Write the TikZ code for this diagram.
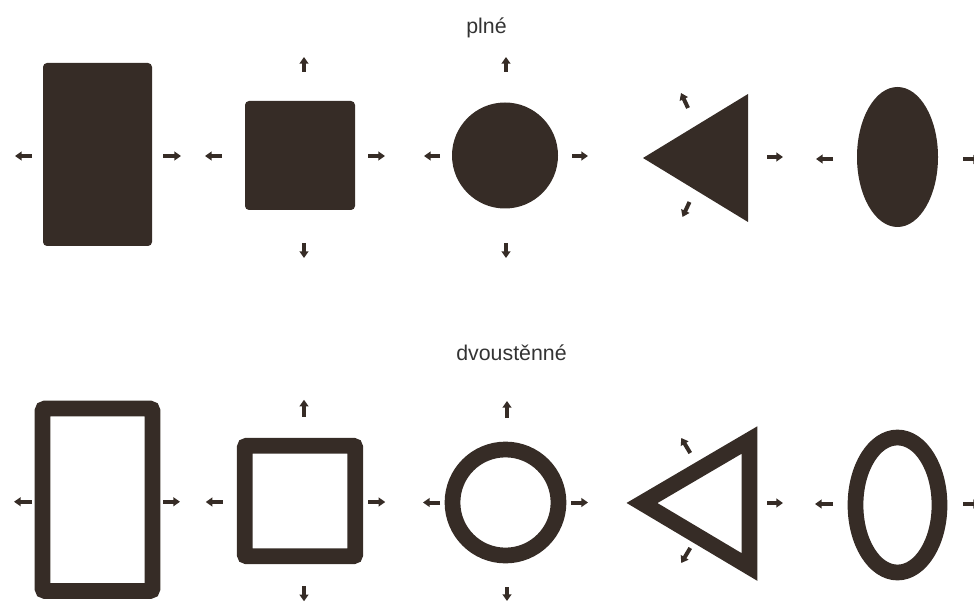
\documentclass[tikz,border=0pt]{standalone}
\usepackage{fontspec}
\setmainfont{Liberation Sans}
\usetikzlibrary{positioning,arrows.meta,shapes.geometric,calc}
\definecolor{ink}{RGB}{54,44,38}

\begin{document}
\begin{tikzpicture}[x=0.75pt,y=-0.75pt,>={Triangle[length=5pt,width=6.6pt]},
  hint/.style={->,line width=3pt,draw=ink},
  body/.style={fill=ink,inner sep=0pt,outer sep=0pt},
  shell/.style={draw=ink,line width=11.8pt,inner sep=0pt,outer sep=0pt},
  caption/.style={font=\fontsize{16}{19}\selectfont,text=black!80,anchor=base}]
\clip (0,0) rectangle (974,602);

% plne
\node[caption] (full) at (486.5,34) {plné};
\node[body,rectangle,rounded corners=3pt,minimum width=81.75pt,minimum height=137.25pt] (rA) at (97.5,154.5) {};
\node[body,rectangle,rounded corners=3pt,minimum width=82.5pt,minimum height=81.75pt] (sB) at (300,155.5) {};
\node[body,circle,minimum size=79.5pt] (cC) at (505,155.5) {};
\coordinate (tDl) at (643,158);
\coordinate (tDt) at (748,94);
\coordinate (tDb) at (748,222);
\fill[ink] (tDl) -- (tDt) -- (tDb) -- cycle;
\node[body,ellipse,minimum width=60.75pt,minimum height=105pt] (eE) at (897.5,157) {};

\draw[hint] (rA.west) ++(-11,1.5) -- ++(-17,0);
\draw[hint] (rA.east) ++(11,1.5) -- ++(18,0);
\draw[hint] (sB.west) ++(-23,0.5) -- ++(-17,0);
\draw[hint] (sB.east) ++(13,0.5) -- ++(17,0);
\draw[hint] (sB.north) ++(4,-29) -- ++(0,-15);
\draw[hint] (sB.south) ++(4,33) -- ++(0,15);
\draw[hint] (cC.west) ++(-12,0.5) -- ++(-16,0);
\draw[hint] (cC.east) ++(14,0.5) -- ++(16,0);
\draw[hint] (cC.north) ++(1,-30.5) -- ++(0,-15);
\draw[hint] (cC.south) ++(1,34.5) -- ++(0,15);
\draw[hint] ($(tDl)!0.5!(tDt)$) ++(-7.5,-18) -- ++(-7,-15);
\draw[hint] ($(tDl)!0.5!(tDb)$) ++(-6,12) -- ++(-7,15);
\draw[hint] (tDt |- tDl) ++(19,-1) -- ++(16,0);
\draw[hint] (eE.west) ++(-24,2) -- ++(-17,0);
\draw[hint] (eE.east) ++(25,2.5) -- ++(17,0);

% dvoustenne
\node[caption] (double) at (511.5,360) {dvoustěnné};
\node[shell,rectangle,rounded corners=2pt,minimum width=82.5pt,minimum height=136.9pt] (rF) at (97.5,499.75) {};
\node[shell,rectangle,rounded corners=1.5pt,minimum size=82.9pt] (sG) at (300,501) {};
\node[shell,circle,minimum size=79.5pt] (cH) at (505.5,502.5) {};
\coordinate (tIl) at (642,503);
\coordinate (tIt) at (749.5,440);
\coordinate (tIb) at (749.5,567);
\draw[ink,line width=11.8pt] (tIl) -- (tIt) -- (tIb) -- cycle;
\node[shell,ellipse,minimum width=63pt,minimum height=101.25pt] (eJ) at (897.5,505) {};

\draw[hint] (rF.west) ++(-10.5,2) -- ++(-18,0);
\draw[hint] (rF.east) ++(10.5,2) -- ++(17,0);
\draw[hint] (sG.west) ++(-22,1) -- ++(-17,0);
\draw[hint] (sG.east) ++(13,1) -- ++(17,0);
\draw[hint] (sG.north) ++(4,-29) -- ++(0,-17);
\draw[hint] (sG.south) ++(4,30) -- ++(0,15);
\draw[hint] (cH.west) ++(-12.5,0) -- ++(-17,0);
\draw[hint] (cH.east) ++(12.5,0) -- ++(17,0);
\draw[hint] (cH.north) ++(1.5,-31.5) -- ++(0,-17);
\draw[hint] (cH.south) ++(1.5,31.5) -- ++(0,14);
\draw[hint] ($(tIl)!0.5!(tIt)$) ++(-5.5,-18.5) -- ++(-9,-15);
\draw[hint] ($(tIl)!0.5!(tIb)$) ++(-5.5,13) -- ++(-9,15);
\draw[hint] (tIt |- tIl) ++(17.5,0) -- ++(16,0);
\draw[hint] (eJ.west) ++(-22.5,-1) -- ++(-18,0);
\draw[hint] (eJ.east) ++(23.5,-1) -- ++(17,0);
\end{tikzpicture}
\end{document}
